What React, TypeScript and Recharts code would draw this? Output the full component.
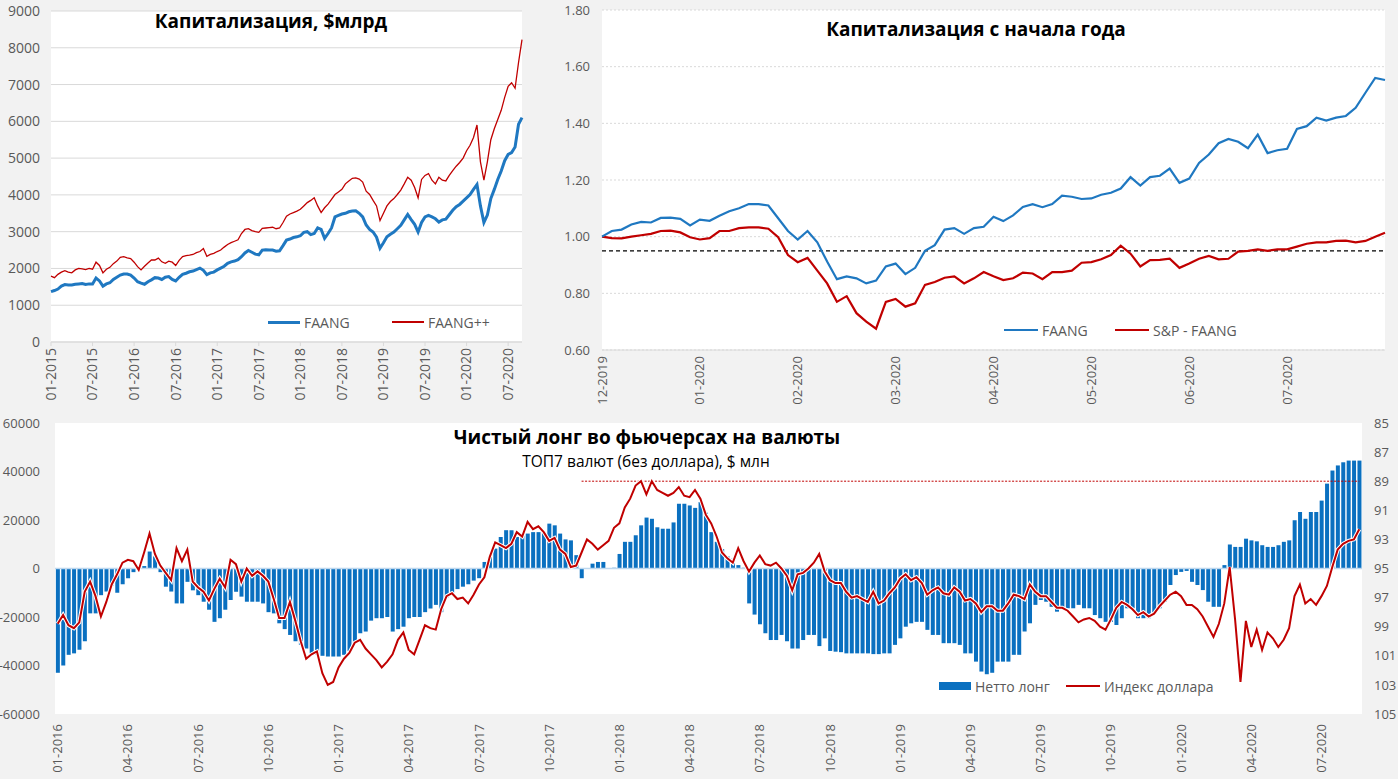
import React from 'react';
import {
  LineChart, Line, XAxis, YAxis, CartesianGrid, ComposedChart, Bar, ReferenceLine,
} from 'recharts';

// ---------- Chart A: Капитализация, $млрд (semi-monthly, Jan 2015 .. Aug 2020) ----------
const capLabels = ['01-2015', '07-2015', '01-2016', '07-2016', '01-2017', '07-2017', '01-2018', '07-2018', '01-2019', '07-2019', '01-2020', '07-2020'];
const faangCap = [
  1370, 1400, 1440, 1520, 1560, 1550, 1550, 1570, 1580, 1590, 1565, 1580, 1580, 1740, 1660, 1520, 1580, 1610, 1700, 1760,
  1820, 1850, 1850, 1820, 1740, 1640, 1600, 1570, 1640, 1690, 1750, 1740, 1700, 1760, 1780, 1700, 1660, 1760, 1840, 1870,
  1910, 1930, 1970, 2010, 1950, 1830, 1880, 1900, 1960, 2010, 2060, 2140, 2180, 2200, 2240, 2320, 2420, 2490, 2440, 2390,
  2370, 2500, 2510, 2500, 2500, 2470, 2480, 2620, 2770, 2800, 2840, 2860, 2890, 2980, 3000, 2920, 2950, 3100, 3060, 2820,
  2950, 3100, 3400, 3440, 3480, 3500, 3540, 3560, 3570, 3500, 3400, 3180, 3060, 2990, 2850, 2550, 2700, 2860, 2930, 2990,
  3080, 3170, 3320, 3470, 3330, 3200, 2990, 3250, 3400, 3440, 3400, 3350, 3260, 3320, 3340, 3460, 3580, 3680, 3740, 3830,
  3920, 4010, 4150, 4280, 3700, 3250, 3450, 3900, 4150, 4420, 4650, 4930, 5100, 5150, 5300, 5920, 6100,
];
const faangPlusCap = [
  1790, 1750, 1840, 1900, 1940, 1900, 1880, 1960, 2000, 1990, 1970, 2000, 1980, 2170, 2080, 1880, 1980, 2030, 2130, 2200,
  2300, 2320, 2290, 2270, 2170, 2050, 1960, 2060, 2150, 2230, 2230, 2280, 2180, 2140, 2200, 2170, 2080, 2220, 2320, 2350,
  2360, 2380, 2430, 2460, 2540, 2330, 2380, 2410, 2460, 2500, 2580, 2650, 2700, 2740, 2780, 2950, 3060, 3080, 3030, 3000,
  2980, 3090, 3100, 3110, 3120, 3080, 3100, 3250, 3420, 3480, 3520, 3560, 3610, 3700, 3790, 3850, 3920, 3700, 3520, 3650,
  3750, 3880, 4010, 4080, 4150, 4300, 4380, 4450, 4460, 4430, 4350, 4100, 4010, 3850, 3700, 3300, 3500, 3700, 3820, 3900,
  4010, 4130, 4300, 4480, 4400, 4200, 3920, 4420, 4530, 4580, 4400, 4300, 4480, 4400, 4380, 4530, 4660, 4780, 4880, 5000,
  5200, 5350, 5560, 5900, 4900, 4400, 4900, 5500, 5800, 6050, 6300, 6650, 6950, 7050, 6900, 7600, 8220,
];

// ---------- Chart B: Капитализация с начала года ----------
const ytdLabels = ['12-2019', '01-2020', '02-2020', '03-2020', '04-2020', '05-2020', '06-2020', '07-2020'];
const ytdFaang = [
  1.00, 1.02, 1.025, 1.043, 1.052, 1.05, 1.066, 1.067, 1.063, 1.04, 1.06, 1.056, 1.074, 1.09, 1.10, 1.115, 1.115, 1.11, 1.065, 1.02,
  0.99, 1.02, 0.98, 0.912, 0.85, 0.86, 0.853, 0.835, 0.845, 0.895, 0.905, 0.868, 0.89, 0.95, 0.97, 1.025, 1.03, 1.01, 1.03, 1.035,
  1.07, 1.055, 1.075, 1.105, 1.115, 1.104, 1.115, 1.145, 1.141, 1.133, 1.135, 1.148, 1.155, 1.17, 1.21, 1.18, 1.21, 1.215, 1.24, 1.19,
  1.205, 1.26, 1.29, 1.33, 1.345, 1.335, 1.312, 1.36, 1.295, 1.305, 1.31, 1.38, 1.39, 1.42, 1.41, 1.42, 1.426, 1.455, 1.508, 1.56,
  1.553,
];
const ytdSpExFaang = [
  1.00, 0.995, 0.994, 1.0, 1.005, 1.01, 1.02, 1.021, 1.015, 0.998, 0.99, 0.995, 1.02, 1.02, 1.03, 1.033, 1.033, 1.028, 0.998, 0.935,
  0.91, 0.925, 0.88, 0.835, 0.77, 0.79, 0.73, 0.70, 0.675, 0.77, 0.78, 0.753, 0.765, 0.83, 0.84, 0.855, 0.86, 0.835, 0.853, 0.875,
  0.86, 0.847, 0.853, 0.873, 0.87, 0.85, 0.875, 0.875, 0.88, 0.908, 0.91, 0.92, 0.935, 0.968, 0.94, 0.895, 0.917, 0.918, 0.922, 0.89,
  0.905, 0.922, 0.932, 0.92, 0.922, 0.947, 0.95, 0.955, 0.95, 0.955, 0.955, 0.965, 0.975, 0.98, 0.98, 0.985, 0.986, 0.98, 0.985, 1.0,
  1.014,
];

// ---------- Chart C: Чистый лонг во фьючерсах на валюты (weekly, Jan 2016 .. Aug 2020) ----------
const quarterLabels = ['01-2016', '04-2016', '07-2016', '10-2016', '01-2017', '04-2017', '07-2017', '10-2017', '01-2018', '04-2018', '07-2018', '10-2018', '01-2019', '04-2019', '07-2019', '10-2019', '01-2020', '04-2020', '07-2020'];
const netLong = [
  -43000, -40000, -35600, -35000, -33500, -30000, -18500, -18500, -11000, -9500,
  -7000, -10000, -6500, -4000, -1500, 500, 1000, 7000, 5000, -1500,
  -7500, -9500, -14400, -14400, -5500, -9000, -11000, -13700, -17000, -22000,
  -20500, -17000, -13000, -9600, -11600, -13700, -13700, -13700, -14400, -18000,
  -18500, -22600, -25000, -27400, -30000, -31500, -33000, -35000, -35600, -36000,
  -36300, -36300, -36300, -35600, -34000, -31000, -26700, -26000, -21500, -20500,
  -20500, -20000, -26000, -25000, -24000, -20500, -20000, -20000, -18000, -16500,
  -15000, -18000, -12000, -11000, -8500, -7500, -6500, -5000, -4000, 2700,
  4800, 8200, 13000, 15800, 15800, 13000, 13500, 14400, 15000, 15000,
  15000, 18500, 17800, 14400, 12000, 11600, 5500, -4000, 0, 2000,
  2700, 2700, 200, 300, 6000, 11000, 11000, 13700, 17800, 21000,
  20500, 17000, 16400, 16400, 19000, 26700, 26700, 26000, 25000, 27400,
  23000, 15000, 11000, 8000, 5000, 4000, 1400, 300, -14400, -19000,
  -23000, -26700, -29500, -29500, -27400, -30000, -33000, -33000, -29500, -27400,
  -27400, -32000, -28800, -34000, -34300, -34500, -35000, -35000, -35000, -35000,
  -35000, -35300, -35300, -35000, -35000, -31500, -28800, -24000, -22600, -22000,
  -22000, -25300, -27400, -27400, -30800, -30800, -30800, -31500, -35000, -35000,
  -38400, -42500, -43600, -43000, -38400, -38400, -38400, -35600, -35600, -26000,
  -22600, -15000, -13000, -13700, -15800, -17800, -16400, -16400, -16400, -15000,
  -16400, -16400, -19200, -20500, -22000, -22000, -23300, -20500, -16400, -16400,
  -20500, -20500, -20500, -18500, -16400, -13700, -6800, -2700, -1400, -1000,
  -5500, -6800, -8900, -13700, -15800, -15800, 1400, 9900, 8900, 8900,
  12300, 11600, 11200, 9600, 8900, 8900, 9600, 11000, 11600, 19900,
  23300, 20500, 23300, 23300, 28000, 35000, 40400, 42500, 43800, 44500,
  44500, 44500,
];
const dollarIndex = [
  98.8, 98.2, 98.9, 99.1, 98.7, 96.6, 95.9, 96.9, 98.3, 97.3,
  96.1, 95.4, 94.6, 94.4, 94.5, 95.1, 93.9, 92.6, 94.0, 94.8,
  95.3, 95.8, 93.6, 94.5, 93.7, 95.9, 96.3, 96.6, 97.2, 96.4,
  95.7, 96.3, 94.4, 94.7, 95.9, 95.0, 95.5, 95.2, 95.5, 95.9,
  97.1, 98.4, 98.4, 97.3, 98.6, 100.0, 101.2, 100.9, 100.7, 102.2,
  103.0, 102.8, 101.8, 101.2, 100.8, 100.1, 99.9, 100.5, 100.9, 101.3,
  101.8, 101.4, 100.9, 99.9, 99.4, 100.6, 100.9, 99.9, 98.9, 99.1,
  99.2, 97.8, 96.9, 96.7, 97.1, 97.0, 97.4, 96.8, 96.1, 95.6,
  94.2, 93.2, 93.4, 93.6, 93.3, 92.5, 92.8, 91.8, 92.3, 92.1,
  92.5, 93.1, 92.9, 93.7, 94.0, 94.9, 94.8, 93.9, 93.0, 93.3,
  93.7, 93.4, 93.1, 92.2, 91.9, 90.8, 90.2, 89.3, 89.0, 89.9,
  89.0, 89.6, 89.8, 90.0, 89.8, 89.4, 90.0, 90.1, 89.6, 90.2,
  91.3, 91.9, 92.8, 93.9, 94.3, 94.6, 93.6, 94.5, 95.2, 94.6,
  94.1, 94.7, 94.8, 94.6, 95.0, 95.5, 96.5, 95.4, 95.3, 95.0,
  94.6, 94.0, 95.2, 95.8, 96.0, 96.0, 96.6, 97.0, 96.9, 97.1,
  97.3, 96.6, 97.4, 97.2, 96.7, 96.3, 95.7, 95.4, 95.8, 95.6,
  96.0, 96.8, 96.5, 96.3, 96.7, 96.8, 96.3, 96.6, 97.2, 97.1,
  97.4, 98.0, 97.6, 97.6, 97.9, 97.9, 97.4, 96.8, 96.9, 97.1,
  96.1, 96.6, 96.9, 96.9, 97.3, 97.7, 97.7, 97.9, 98.3, 98.7,
  98.5, 98.4, 98.6, 99.0, 99.2, 98.5, 97.7, 97.3, 97.5, 97.8,
  98.2, 98.0, 98.3, 98.1, 97.6, 97.2, 96.8, 96.6, 96.9, 97.5,
  97.5, 97.8, 98.3, 99.0, 99.7, 98.8, 97.4, 94.9, 98.5, 102.8,
  98.6, 100.4, 99.2, 100.6, 99.4, 99.8, 100.4, 99.9, 99.1, 96.9,
  96.1, 97.4, 97.1, 97.5, 96.9, 96.2, 94.9, 93.7, 93.3, 93.1,
  93.0, 92.3,
];
const dxyTicks = [85, 87, 89, 91, 93, 95, 97, 99, 101, 103, 105];
const netTicks = [-60000, -40000, -20000, 0, 20000, 40000, 60000];
const dxyLowLevel = 89;
const dxyLowFromWeek = 97;

// ---------- styling ----------
const BLUE = '#1F78C1';
const RED = '#C00000';
const BAR_BLUE = '#0A70C0';
const GRID = '#d9d9d9';
const TXT = '#595959';
const FONT = '"Open Sans", "Noto Sans", sans-serif';

const dataA = faangCap.map((v, i) => ({ m: i * 0.5, faang: v, plus: faangPlusCap[i] }));
const dataB = ytdFaang.map((v, i) => ({ d: i, faang: v, sp: ytdSpExFaang[i] }));
const dataC = netLong.map((v, i) => ({ w: i, net: v, dxy: dollarIndex[i] }));

const makeVTick = (fmt: (v: any) => string, size = 14) => (props: any) => {
  const { x, y, payload } = props;
  return (
    <text
      x={x}
      y={y}
      transform={`rotate(-90 ${x} ${y})`}
      textAnchor="end"
      dy="0.35em"
      fontSize={size}
      fill={TXT}
      fontFamily={FONT}
    >
      {fmt(payload.value)}
    </text>
  );
};

const abs = (l: number, t: number): React.CSSProperties => ({ position: 'absolute', left: l, top: t });

const LegendLine = ({ l, t, w, color, thick, label }: any) => (
  <div style={{ ...abs(l, t), display: 'flex', alignItems: 'center', height: 20, fontSize: 14, color: TXT, whiteSpace: 'nowrap' }}>
    <div style={{ width: w, height: thick, background: color, marginRight: 4 }} />
    <span>{label}</span>
  </div>
);

export default function App() {
  return (
    <div style={{ position: 'absolute', left: 0, top: 0, width: 1398, height: 779, background: '#f2f2f2', fontFamily: FONT, overflow: 'hidden' }}>
      {/* Chart A */}
      <div style={abs(0, 0)}>
        <LineChart width={540} height={405} data={dataA} margin={{ top: 11, right: 18, left: 0, bottom: 0 }}>
          <CartesianGrid vertical={false} stroke={GRID} fill="#ffffff" />
          <XAxis
            dataKey="m"
            type="number"
            domain={[0, 68]}
            ticks={[0, 6, 12, 18, 24, 30, 36, 42, 48, 54, 60, 66]}
            height={63}
            axisLine={{ stroke: GRID }}
            tickLine={{ stroke: GRID }}
            tickSize={4}
            tickMargin={2}
            tick={makeVTick((v) => capLabels[Math.round(v / 6)])}
          />
          <YAxis
            width={51}
            domain={[0, 9000]}
            ticks={[0, 1000, 2000, 3000, 4000, 5000, 6000, 7000, 8000, 9000]}
            axisLine={false}
            tickLine={false}
            tickSize={0}
            tickMargin={11}
            tick={{ fontSize: 14, fill: TXT }}
          />
          <Line dataKey="plus" stroke={RED} strokeWidth={1.3} dot={false} isAnimationActive={false} />
          <Line dataKey="faang" stroke={BLUE} strokeWidth={3} dot={false} isAnimationActive={false} />
        </LineChart>
      </div>
      <div style={{ ...abs(101, 8), width: 340, textAlign: 'center', fontWeight: 700, fontSize: 19, color: '#000' }}>Капитализация, $млрд</div>
      <LegendLine l={268} t={312} w={32} color={BLUE} thick={3} label="FAANG" />
      <LegendLine l={392} t={312} w={32} color={RED} thick={1.5} label="FAANG++" />

      {/* Chart B */}
      <div style={abs(545, 0)}>
        <LineChart width={853} height={405} data={dataB} margin={{ top: 10, right: 13, left: 0, bottom: 0 }}>
          <CartesianGrid vertical={false} stroke={GRID} strokeDasharray="2 2" fill="#ffffff" />
          <XAxis
            dataKey="d"
            type="number"
            domain={[0, 80]}
            ticks={[0, 10, 20, 30, 40, 50, 60, 70]}
            height={55}
            axisLine={{ stroke: GRID }}
            tickLine={false}
            tickSize={0}
            tickMargin={6}
            tick={makeVTick((v) => ytdLabels[Math.round(v / 10)], 13)}
          />
          <YAxis
            width={57}
            domain={[0.6, 1.8]}
            ticks={[0.6, 0.8, 1.0, 1.2, 1.4, 1.6, 1.8]}
            tickFormatter={(v: number) => v.toFixed(2)}
            axisLine={false}
            tickLine={false}
            tickSize={0}
            tickMargin={12}
            tick={{ fontSize: 13, fill: TXT }}
          />
          <ReferenceLine y={0.95} stroke="#000" strokeDasharray="4 3" strokeWidth={1.3} />
          <Line dataKey="sp" stroke={RED} strokeWidth={2.2} dot={false} isAnimationActive={false} />
          <Line dataKey="faang" stroke={BLUE} strokeWidth={2.2} dot={false} isAnimationActive={false} />
        </LineChart>
      </div>
      <div style={{ ...abs(776, 16), width: 400, textAlign: 'center', fontWeight: 700, fontSize: 19, color: '#000' }}>Капитализация с начала года</div>
      <LegendLine l={1004} t={320} w={34} color={BLUE} thick={2.5} label="FAANG" />
      <LegendLine l={1115} t={320} w={34} color={RED} thick={2.5} label="S&P - FAANG" />

      {/* Chart C */}
      <div style={abs(0, 410)}>
        <ComposedChart width={1398} height={369} data={dataC} margin={{ top: 13, right: 0, left: 0, bottom: 0 }} barCategoryGap="16%">
          <CartesianGrid horizontal={false} vertical={false} fill="#ffffff" yAxisId="left" />
          <XAxis
            dataKey="w"
            interval={12}
            height={65}
            axisLine={false}
            tickLine={false}
            tickSize={0}
            tickMargin={10}
            tick={makeVTick((v) => quarterLabels[Math.round(v / 13)] ?? '', 13)}
          />
          <YAxis
            yAxisId="left"
            width={55}
            domain={[-60000, 60000]}
            ticks={netTicks}
            axisLine={false}
            tickLine={false}
            tickSize={0}
            tickMargin={15}
            tick={{ fontSize: 13, fill: TXT }}
          />
          <YAxis
            yAxisId="right"
            orientation="right"
            width={36}
            domain={[85, 105]}
            reversed
            ticks={dxyTicks}
            axisLine={false}
            tickLine={false}
            tickSize={0}
            tickMargin={12}
            tick={{ fontSize: 13, fill: TXT }}
          />
          <Bar yAxisId="left" dataKey="net" fill={BAR_BLUE} isAnimationActive={false} />
          <ReferenceLine yAxisId="left" y={0} stroke="#bdd7ee" strokeWidth={1.5} />
          <ReferenceLine
            yAxisId="right"
            segment={[{ x: dxyLowFromWeek, y: dxyLowLevel }, { x: netLong.length - 1, y: dxyLowLevel }]}
            stroke={RED}
            strokeDasharray="2 1.5"
            strokeWidth={1}
          />
          <Line yAxisId="right" dataKey="dxy" stroke="#ffffff" strokeWidth={4} dot={false} isAnimationActive={false} legendType="none" />
          <Line yAxisId="right" dataKey="dxy" stroke={RED} strokeWidth={2} dot={false} isAnimationActive={false} />
        </ComposedChart>
      </div>
      <div style={{ ...abs(397, 424), width: 500, textAlign: 'center', fontWeight: 700, fontSize: 19, color: '#000' }}>Чистый лонг во фьючерсах на валюты</div>
      <div style={{ ...abs(446, 450), width: 400, textAlign: 'center', fontSize: 15.5, color: '#000' }}>ТОП7 валют (без доллара), $ млн</div>
      <div style={{ ...abs(939, 676), display: 'flex', alignItems: 'center', height: 20, fontSize: 14, color: TXT, whiteSpace: 'nowrap' }}>
        <div style={{ width: 32, height: 8, background: BAR_BLUE, marginRight: 4 }} />
        <span>Нетто лонг</span>
      </div>
      <LegendLine l={1066} t={676} w={34} color={RED} thick={2.5} label="Индекс доллара" />
    </div>
  );
}
